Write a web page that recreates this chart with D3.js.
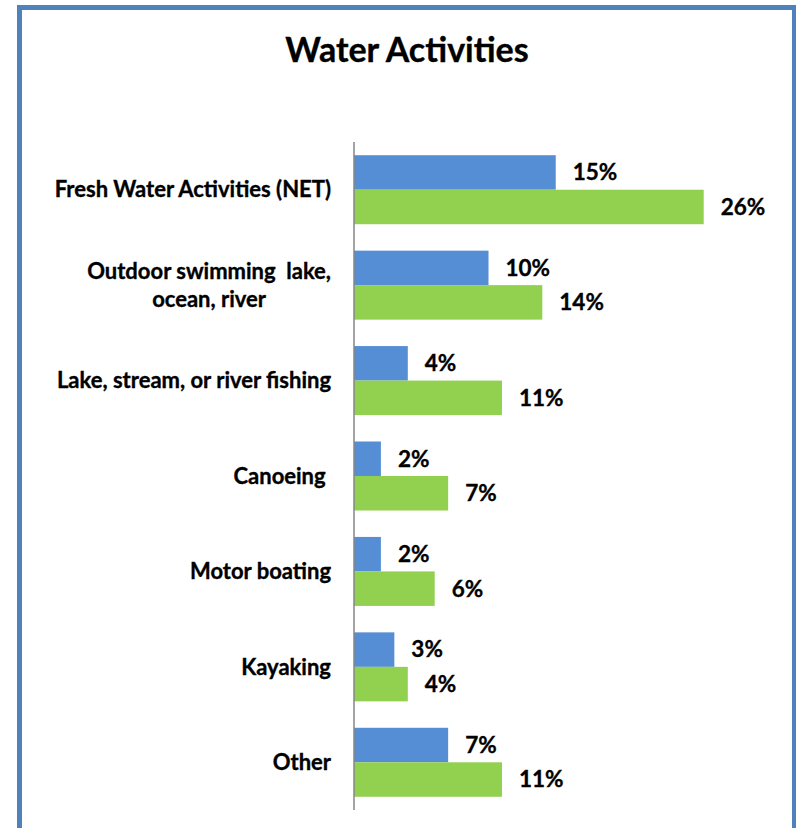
<!DOCTYPE html>
<html>
<head>
<meta charset="utf-8">
<script src="https://cdn.jsdelivr.net/npm/d3@7"></script>
<style>
  html, body { margin: 0; padding: 0; background: #fff; }
  svg { display: block; }
  text { font-family: Lato, "Open Sans", sans-serif; font-weight: bold; fill: #000; stroke: #000; stroke-width: 0.35px; }
</style>
</head>
<body>
<svg id="chart" width="796" height="828"></svg>
<script>
// Water activities: two series per category, percentages.
const categories = [
  ["Fresh Water Activities (NET)"],
  ["Outdoor swimming  lake,", "ocean, river"],
  ["Lake, stream, or river fishing"],
  ["Canoeing "],
  ["Motor boating"],
  ["Kayaking"],
  ["Other"]
];
const seriesNames = ["Series A", "Series B"];
const seriesA = [15, 10, 4, 2, 2, 3, 7];
const seriesB = [26, 14, 11, 7, 6, 4, 11];
const colors = ["#558ed5", "#92d050"];
const titleText = "Water Activities";

const svg = d3.select("#chart");

// Frame
svg.append("rect")
  .attr("x", 19.5).attr("y", 7.5)
  .attr("width", 775).attr("height", 900)
  .attr("fill", "none")
  .attr("stroke", "#4f81bd")
  .attr("stroke-width", 5);

// Title
svg.append("text")
  .attr("x", 407).attr("y", 62)
  .attr("text-anchor", "middle")
  .style("font-size", "34px")
  .text(titleText);

const keys = categories.map((c, i) => i);
const x = d3.scaleLinear().domain([0, 30]).range([354, 354 + 30 * 13.45]);
const y = d3.scaleBand().domain(keys).range([142, 810]).padding(0);
const groupH = 69;
const yInner = d3.scaleBand().domain(seriesNames)
  .range([(y.bandwidth() - groupH) / 2, (y.bandwidth() + groupH) / 2]).padding(0);

const rows = keys.map(i => ({ i, vals: [seriesA[i], seriesB[i]] }));

const grp = svg.append("g").selectAll("g.row").data(rows).join("g")
  .attr("class", "row")
  .attr("transform", d => `translate(0,${y(d.i)})`);

grp.selectAll("rect").data(d => d.vals.map((v, k) => ({ v, k }))).join("rect")
  .attr("x", x(0))
  .attr("y", d => yInner(seriesNames[d.k]))
  .attr("width", d => x(d.v) - x(0))
  .attr("height", yInner.bandwidth())
  .attr("fill", d => colors[d.k]);

grp.selectAll("text.val").data(d => d.vals.map((v, k) => ({ v, k }))).join("text")
  .attr("class", "val")
  .attr("x", d => x(d.v) + 17)
  .attr("y", d => yInner(seriesNames[d.k]) + yInner.bandwidth() / 2)
  .attr("dy", "0.35em")
  .style("font-size", "22.5px")
  .text(d => d.v + "%");

// Vertical category axis line
svg.append("line")
  .attr("x1", x(0)).attr("x2", x(0))
  .attr("y1", y.range()[0]).attr("y2", y.range()[1])
  .attr("stroke", "#868686").attr("stroke-width", 1.5);

// Category labels, right-aligned block, wrapped lines centered within the block
const labelRight = 331, lineH = 28;
rows.forEach(d => {
  const lines = categories[d.i];
  const cy = y(d.i) + y.bandwidth() / 2;
  const t = svg.append("text")
    .style("font-size", "22px")
    .style("white-space", "pre")
    .attr("text-anchor", lines.length > 1 ? "middle" : "end");
  const spans = lines.map((s, j) => t.append("tspan")
    .attr("y", cy + (j - (lines.length - 1) / 2) * lineH)
    .attr("dy", "0.35em")
    .text(s));
  if (lines.length > 1) {
    const wmax = d3.max(spans, s => s.node().getComputedTextLength());
    spans.forEach(s => s.attr("x", labelRight - wmax / 2));
  } else {
    spans.forEach(s => s.attr("x", labelRight));
  }
});
</script>
</body>
</html>
